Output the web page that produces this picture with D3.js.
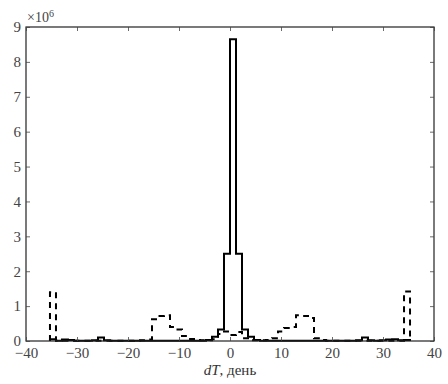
<!DOCTYPE html>
<html>
<head>
<meta charset="utf-8">
<script src="https://cdn.jsdelivr.net/npm/d3@7"></script>
<style>
body{margin:0;background:#fff;}
text{font-family:"Liberation Serif","DejaVu Serif",serif;}
</style>
</head>
<body>
<script>
// histogram bins: 60 bins over [-35.3, 35.3]
var binLo=-35.3, binHi=35.3;
var solidCounts=[0.05,0.01,0.04,0.03,0.01,0.01,0.01,0.02,0.1,0.02,
  0.01,0.01,0.01,0.01,0.01,0.01,0.01,0.01,0.01,0.01,
  0.01,0.01,0.01,0.01,0.01,0.01,0.03,0.12,0.33,2.5,
  8.65,2.5,0.33,0.12,0.03,0.01,0.01,0.01,0.01,0.01,
  0.01,0.01,0.01,0.01,0.01,0.01,0.01,0.01,0.01,0.01,
  0.01,0.02,0.1,0.02,0.01,0.02,0.04,0.05,0.02,0.03];
var dashedCounts=[1.4,0.01,0.005,0.005,0.005,0.005,0.005,0.005,0.005,0.005,
  0.005,0.005,0.005,0.005,0.01,0.02,0.04,0.62,0.72,0.74,
  0.4,0.33,0.14,0.06,0.03,0.02,0.02,0.05,0.2,0.27,
  0.17,0.26,0.08,0.02,0.02,0.02,0.03,0.08,0.27,0.37,
  0.4,0.74,0.72,0.66,0.08,0.03,0.01,0.01,0.01,0.01,
  0.01,0.01,0.01,0.01,0.01,0.01,0.01,0.01,0.01,1.42];
var xTicks=[-40,-30,-20,-10,0,10,20,30,40];
var yTicks=[0,1,2,3,4,5,6,7,8,9];

var W=448,H=384;
var mLeft=26,mRight=434,mTop=27,mBottom=341;

var svg=d3.select("body").append("svg").attr("width",W).attr("height",H);

var x=d3.scaleLinear().domain([-40,40]).range([mLeft,mRight]);
var y=d3.scaleLinear().domain([0,9]).range([mBottom,mTop]);

var nb=solidCounts.length;
var bw=(binHi-binLo)/nb;

function stepPoints(counts){
  var pts=[[binLo,0]];
  counts.forEach(function(v,i){ pts.push([binLo+i*bw,v]); });
  pts.push([binHi,counts[counts.length-1]]);
  pts.push([binHi,0]);
  return pts;
}

var line=d3.line()
  .x(function(d){return x(d[0]);})
  .y(function(d){return y(d[1]);})
  .curve(d3.curveStepAfter);

svg.append("path")
  .attr("d",line(stepPoints(dashedCounts)))
  .attr("fill","none")
  .attr("stroke","#000")
  .attr("stroke-width",2)
  .attr("stroke-dasharray","6,5");

svg.append("path")
  .attr("d",line(stepPoints(solidCounts)))
  .attr("fill","none")
  .attr("stroke","#000")
  .attr("stroke-width",2);

// frame
svg.append("rect")
  .attr("x",mLeft).attr("y",mTop)
  .attr("width",mRight-mLeft).attr("height",mBottom-mTop)
  .attr("fill","none").attr("stroke","#222").attr("stroke-width",1.2);

// ticks inward
var xb=d3.axisBottom(x).tickValues(xTicks).tickSize(-4).tickPadding(6)
  .tickFormat(function(d){return d<0?"\u2212"+(-d):d;});
var gx=svg.append("g").attr("transform","translate(0,"+mBottom+")").call(xb);
var xt=d3.axisTop(x).tickValues(xTicks).tickSize(-4).tickFormat("");
var gxt=svg.append("g").attr("transform","translate(0,"+mTop+")").call(xt);
var yl=d3.axisLeft(y).tickValues(yTicks).tickSize(-4).tickPadding(5);
var gy=svg.append("g").attr("transform","translate("+mLeft+",0)").call(yl);
var yr=d3.axisRight(y).tickValues(yTicks).tickSize(-4).tickFormat("");
var gyr=svg.append("g").attr("transform","translate("+mRight+",0)").call(yr);

[gx,gxt,gy,gyr].forEach(function(g){
  g.select(".domain").remove();
  g.selectAll(".tick line").attr("stroke","#444").attr("stroke-width",0.8);
  g.selectAll(".tick text").attr("fill","#444").attr("font-size",15)
    .attr("font-family","Liberation Serif, DejaVu Serif, serif");
});

// multiplier
var mult=svg.append("text").attr("x",27).attr("y",22).attr("font-size",14).attr("fill","#444");
mult.append("tspan").text("\u00d710");
mult.append("tspan").attr("font-size",10).attr("dy",-5).text("6");

// x label
var xl=svg.append("text").attr("x",230).attr("y",375).attr("text-anchor","middle")
  .attr("font-size",15).attr("fill","#333");
xl.append("tspan").attr("font-style","italic").text("dT");
xl.append("tspan").text(", день");
</script>
</body>
</html>
